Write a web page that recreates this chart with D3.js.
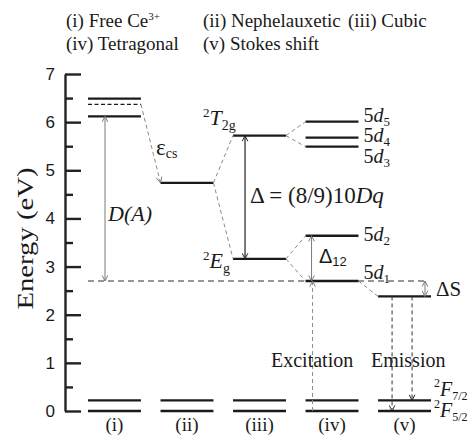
<!DOCTYPE html>
<html>
<head>
<meta charset="utf-8">
<script src="https://cdn.jsdelivr.net/npm/d3@7/dist/d3.min.js"></script>
<style>
  html, body { margin: 0; padding: 0; background: #fff; }
  svg { display: block; }
</style>
</head>
<body>
<svg id="chart" width="473" height="436"></svg>
<script>
// Ce3+ 4f -> 5d energy level scheme, energies in eV
const categories = ["(i)", "(ii)", "(iii)", "(iv)", "(v)"];
const yTicks = [0, 1, 2, 3, 4, 5, 6, 7];
const yMinorTicks = [0.5, 1.5, 2.5, 3.5, 4.5, 5.5, 6.5];
const groundEnergies = [0, 0.22];            // 2F5/2, 2F7/2
const freeIonEnergies = [6.12, 6.49];        // free-ion 5d levels
const freeIonBarycentre = 6.37;              // dashed barycentre
const centroidEnergy = 4.74;                 // after nephelauxetic shift
const cubicEnergies = [3.16, 5.72];          // 2Eg, 2T2g
const tetragonalEnergies = [2.70, 3.64, 5.49, 5.68, 6.01]; // 5d1..5d5
const stokesEnergy = 2.38;                   // relaxed 5d1
const headerLines = [
  ["(i) Free Ce|3+", "(ii) Nephelauxetic", "(iii) Cubic"],
  ["(iv) Tetragonal", "(v) Stokes shift"]
];

const SERIF = '"Liberation Serif", "Times New Roman", Times, serif';
const SANS = '"Liberation Sans", Arial, Helvetica, sans-serif';
const INK = "#1a1a1a";

const svg = d3.select("#chart");
const y = d3.scaleLinear().domain([0, 7]).range([411, 74]);
const x = d3.scaleBand().domain(categories).range([88, 431]).paddingInner(0.27).paddingOuter(0);
const bw = x.bandwidth();
const x0 = c => x(c);
const x1 = c => x(c) + bw;

// arrow markers
const defs = svg.append("defs");
function marker(id, color) {
  defs.append("marker")
    .attr("id", id).attr("viewBox", "0 0 10 10")
    .attr("refX", 9).attr("refY", 5)
    .attr("markerWidth", 7).attr("markerHeight", 7)
    .attr("markerUnits", "userSpaceOnUse")
    .attr("orient", "auto-start-reverse")
    .append("path").attr("d", "M1,1 L9,5 L1,9")
    .attr("fill", "none").attr("stroke", color).attr("stroke-width", 1.4);
}
marker("ag", "#7a7a7a");
marker("ak", "#222");

// header
const headerX = [66, 203, 348];
headerLines.forEach((row, ri) => {
  row.forEach((s, ci) => {
    const t = svg.append("text").attr("font-family", SERIF).attr("fill", INK)
      .attr("x", headerX[ci]).attr("y", 27 + ri * 23)
      .attr("font-size", 19);
    const parts = s.split("|");
    t.append("tspan").text(parts[0]);
    if (parts[1]) t.append("tspan").attr("dy", -7).attr("font-size", 11).text(parts[1]);
  });
});

// y axis
const gAxis = svg.append("g").attr("transform", "translate(65,0)");
gAxis.call(d3.axisLeft(y).tickValues(yTicks).tickSize(-16).tickSizeOuter(0).tickPadding(10).tickFormat(d3.format("d")));
gAxis.call(g => g.select(".domain").attr("stroke", "#222").attr("stroke-width", 2.4));
gAxis.selectAll(".tick line").attr("stroke", "#222").attr("stroke-width", 2.4);
gAxis.selectAll(".tick text").attr("font-family", SANS).attr("font-size", 17).attr("fill", INK);
const gMinor = svg.append("g").attr("transform", "translate(65,0)");
gMinor.call(d3.axisLeft(y).tickValues(yMinorTicks).tickSize(-8).tickSizeOuter(0).tickFormat(""));
gMinor.select(".domain").remove();
gMinor.selectAll(".tick line").attr("stroke", "#222").attr("stroke-width", 2.4);

svg.append("text").attr("font-family", SERIF).attr("fill", INK).attr("font-size", 24)
  .attr("transform", `translate(33,${(y(0) + y(7)) / 2 - 4}) rotate(-90)`)
  .attr("text-anchor", "middle")
  .attr("textLength", 142).attr("lengthAdjust", "spacingAndGlyphs")
  .text("Energy (eV)");

// dashed reference line at the 5d1 energy
svg.append("line")
  .attr("x1", x0("(i)")).attr("x2", x1("(v)") - 6)
  .attr("y1", y(tetragonalEnergies[0])).attr("y2", y(tetragonalEnergies[0]))
  .attr("stroke", "#333").attr("stroke-width", 1).attr("stroke-dasharray", "6,4");

// level lines
const levels = [];
categories.forEach(c => groundEnergies.forEach(e => levels.push({ c, e })));
freeIonEnergies.forEach(e => levels.push({ c: "(i)", e }));
levels.push({ c: "(ii)", e: centroidEnergy });
cubicEnergies.forEach(e => levels.push({ c: "(iii)", e }));
tetragonalEnergies.forEach(e => levels.push({ c: "(iv)", e }));
levels.push({ c: "(v)", e: stokesEnergy });

svg.append("g").selectAll("line").data(levels).join("line")
  .attr("x1", d => x0(d.c)).attr("x2", d => x1(d.c))
  .attr("y1", d => y(d.e)).attr("y2", d => y(d.e))
  .attr("stroke", INK).attr("stroke-width", 2.3);

svg.append("line")
  .attr("x1", x0("(i)")).attr("x2", x1("(i)"))
  .attr("y1", y(freeIonBarycentre)).attr("y2", y(freeIonBarycentre))
  .attr("stroke", INK).attr("stroke-width", 1.3).attr("stroke-dasharray", "4,2.5");

// dashed connectors between columns
const connectors = [
  { a: "(i)", ea: freeIonBarycentre, b: "(ii)", eb: centroidEnergy, arrow: true },
  { a: "(ii)", ea: centroidEnergy, b: "(iii)", eb: cubicEnergies[1] },
  { a: "(ii)", ea: centroidEnergy, b: "(iii)", eb: cubicEnergies[0] },
  { a: "(iii)", ea: cubicEnergies[1], b: "(iv)", eb: tetragonalEnergies[4] },
  { a: "(iii)", ea: cubicEnergies[1], b: "(iv)", eb: tetragonalEnergies[2] },
  { a: "(iii)", ea: cubicEnergies[0], b: "(iv)", eb: tetragonalEnergies[1] },
  { a: "(iii)", ea: cubicEnergies[0], b: "(iv)", eb: tetragonalEnergies[0] },
  { a: "(iv)", ea: tetragonalEnergies[0], b: "(v)", eb: stokesEnergy }
];
svg.append("g").selectAll("line").data(connectors).join("line")
  .attr("x1", d => x1(d.a)).attr("y1", d => y(d.ea))
  .attr("x2", d => x0(d.b)).attr("y2", d => y(d.eb))
  .attr("stroke", "#8a8a8a").attr("stroke-width", 1).attr("stroke-dasharray", "4,3")
  .attr("marker-end", d => d.arrow ? "url(#ag)" : null);

// vertical arrows
const arrows = [
  { xp: x0("(i)") + 17, e1: tetragonalEnergies[0], e2: freeIonEnergies[0], color: "#7a7a7a", m: "ag", both: true },
  { xp: x0("(iii)") + 12, e1: cubicEnergies[0], e2: cubicEnergies[1], color: "#222", m: "ak", both: true, w: 1.2 },
  { xp: x0("(iv)") + 6, e1: tetragonalEnergies[0], e2: tetragonalEnergies[1], color: "#7a7a7a", m: "ag", both: true },
  { xp: x1("(v)") - 6, e1: stokesEnergy, e2: tetragonalEnergies[0], color: "#7a7a7a", m: "ag", both: true },
  { xp: x0("(iv)") + 7, e1: groundEnergies[0], e2: tetragonalEnergies[0], color: "#8a8a8a", m: "ag", dash: "4,3" },
  { xp: x0("(v)") + 14, e1: stokesEnergy, e2: groundEnergies[0], color: "#333", m: "ak", dash: "4,3" },
  { xp: x0("(v)") + 34, e1: stokesEnergy, e2: groundEnergies[1], color: "#333", m: "ak", dash: "4,3" }
];
svg.append("g").selectAll("line").data(arrows).join("line")
  .attr("x1", d => d.xp).attr("x2", d => d.xp)
  .attr("y1", d => y(d.e1)).attr("y2", d => y(d.e2))
  .attr("stroke", d => d.color).attr("stroke-width", d => d.w || 1)
  .attr("stroke-dasharray", d => d.dash || null)
  .attr("marker-end", d => `url(#${d.m})`)
  .attr("marker-start", d => d.both ? `url(#${d.m})` : null);

// text with sub/superscript pieces
function label(px, py, parts, size, family) {
  const t = svg.append("text").attr("font-family", family || SERIF).attr("fill", INK)
    .attr("x", px).attr("y", py).attr("font-size", size);
  let shift = 0;
  parts.forEach(p => {
    const ts = t.append("tspan").text(p.t);
    const target = p.dy || 0;
    if (target !== shift) { ts.attr("dy", target - shift); shift = target; }
    if (p.s) ts.attr("font-size", p.s);
    if (p.i) ts.attr("font-style", "italic");
  });
  return t;
}

label(108, 221, [{ t: "D(A)", i: true }], 22);
label(156, 155, [{ t: "ε", s: 23 }, { t: "cs", s: 14, dy: 3 }], 20);
label(203, 125, [{ t: "2", s: 13, dy: -8 }, { t: "T", i: true, s: 22 }, { t: "2g", s: 14, dy: 5 }], 22);
label(203, 268, [{ t: "2", s: 13, dy: -8 }, { t: "E", i: true, s: 22 }, { t: "g", s: 14, dy: 5 }], 22);
label(250, 203, [{ t: "Δ = (8/9)10" }, { t: "Dq", i: true }], 23);
label(319, 263, [{ t: "Δ", s: 20 }, { t: "12", s: 13, dy: 3 }], 20, SANS);
label(436, 296, [{ t: "ΔS" }], 21);

// 5d labels for the tetragonal levels
const dLabelY = [279, 241, 163, 142, 122];
tetragonalEnergies.forEach((e, i) => {
  label(x1("(iv)") + 5, dLabelY[i], [{ t: "5" }, { t: "d", i: true }, { t: String(i + 1), s: 13, dy: 4 }], 20);
});

label(271, 367, [{ t: "Excitation" }], 20);
label(371, 367, [{ t: "Emission" }], 20);

label(434, 396, [{ t: "2", s: 12, dy: -9 }, { t: "F", i: true, s: 20 }, { t: "7/2", s: 12, dy: 4 }], 20);
label(434, 417, [{ t: "2", s: 12, dy: -9 }, { t: "F", i: true, s: 20 }, { t: "5/2", s: 12, dy: 4 }], 20);

// column captions
svg.append("g").selectAll("text").data(categories).join("text")
  .attr("font-family", SERIF).attr("fill", INK).attr("font-size", 19)
  .attr("x", d => x(d) + bw / 2).attr("y", 431).attr("text-anchor", "middle")
  .text(d => d);
</script>
</body>
</html>
